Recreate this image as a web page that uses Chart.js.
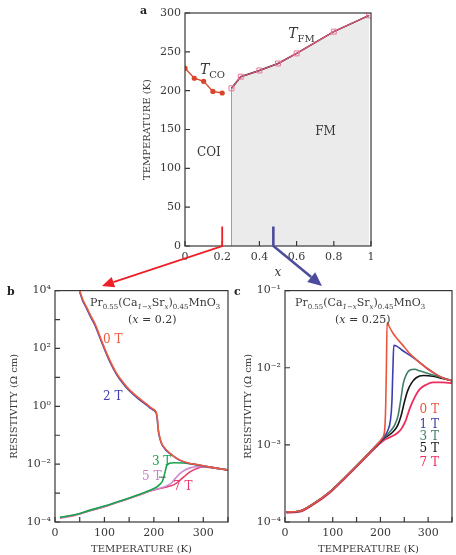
<!DOCTYPE html>
<html>
<head>
<meta charset="utf-8">
<script src="https://cdn.jsdelivr.net/npm/chart.js@4.4.0/dist/chart.umd.min.js"></script>
<style>
html, body { margin:0; padding:0; background:#fff; overflow:hidden; width:456px; height:555px; }
canvas { position:absolute; }
#chartB { left:0; top:280px; }
#chartC { left:232px; top:280px; }
#chartA { left:0; top:0; }
</style>
</head>
<body>
<canvas id="chartB" width="240" height="275"></canvas>
<canvas id="chartC" width="225" height="275"></canvas>
<canvas id="chartA" width="400" height="300"></canvas>
<script>
// ---- panel a : phase diagram ----
const xCO = [0, 0.05, 0.1, 0.15, 0.2];
const tCO = [229, 216, 212, 199, 197];
const xFM = [0.25, 0.3, 0.4, 0.5, 0.6, 0.8, 0.99];
const tFM = [203, 218, 226, 235, 248, 276, 297];
const xTicksA = [0, 0.2, 0.4, 0.6, 0.8, 1];
const yTicksA = [0, 50, 100, 150, 200, 250, 300];

// ---- panel b : x = 0.2 (log10 of resistivity) ----
const tB_hi = [50, 56, 64, 72, 81, 94, 108, 125, 140, 152, 170, 185, 192, 198, 202, 205, 207, 209, 212, 216, 221, 226, 240, 253, 270, 293, 320, 350];
const eB_0T = [4.0, 3.7, 3.43, 3.14, 2.85, 2.28, 1.70, 1.13, 0.78, 0.55, 0.28, 0.08, -0.02, -0.09, -0.14, -0.22, -0.42, -0.8, -1.07, -1.29, -1.42, -1.52, -1.72, -1.86, -1.96, -2.03, -2.12, -2.2];
const eB_2T = [3.95, 3.65, 3.38, 3.09, 2.8, 2.23, 1.65, 1.09, 0.74, 0.51, 0.24, 0.05, -0.05, -0.12, -0.17, -0.25, -0.46, -0.84, -1.1, -1.31, -1.44, -1.54, -1.73, -1.87, -1.97, -2.04, -2.12, -2.2];
const tB_3T = [10, 40, 71, 100, 138, 170, 192, 205, 212, 217, 220, 223, 226, 232, 240, 260, 280, 300, 325, 350];
const eB_3T = [-3.84, -3.75, -3.59, -3.45, -3.24, -3.05, -2.9, -2.8, -2.7, -2.6, -2.45, -2.25, -2.05, -1.97, -1.95, -1.96, -2.0, -2.06, -2.14, -2.2];
const tB_5T = [10, 40, 71, 100, 138, 170, 192, 210, 225, 235, 243, 253, 263, 275, 293, 320, 350];
const eB_5T = [-3.85, -3.76, -3.6, -3.46, -3.25, -3.06, -2.92, -2.84, -2.76, -2.66, -2.5, -2.32, -2.2, -2.12, -2.08, -2.12, -2.2];
const tB_7T = [10, 40, 71, 100, 138, 170, 192, 210, 228, 242, 252, 262, 274, 287, 300, 320, 350];
const eB_7T = [-3.86, -3.77, -3.61, -3.47, -3.26, -3.07, -2.93, -2.85, -2.78, -2.7, -2.57, -2.42, -2.26, -2.15, -2.1, -2.13, -2.2];
const yTicksB = [1e-4, 1e-3, 1e-2, 1e-1, 1, 1e1, 1e2, 1e3, 1e4];
const yLabelsB = ['10⁻⁴', '', '10⁻²', '', '10⁰', '', '10²', '', '10⁴'];

// ---- panel c : x = 0.25 ----
const tC_0T = [3, 30, 58, 92, 126, 160, 194, 204, 209, 211, 212.5, 214, 218, 226, 236, 250, 262, 280, 296, 315, 330, 350];
const eC_0T = [-3.87, -3.86, -3.77, -3.62, -3.42, -3.21, -2.99, -2.91, -2.8, -2.5, -2.0, -1.41, -1.46, -1.55, -1.63, -1.73, -1.82, -1.92, -2.0, -2.08, -2.13, -2.17];
const tC_1T = [3, 30, 58, 92, 126, 160, 194, 207, 215, 221, 224, 226, 228, 234, 245, 262, 280, 296, 315, 330, 350];
const eC_1T = [-3.87, -3.86, -3.77, -3.62, -3.42, -3.21, -2.99, -2.9, -2.82, -2.68, -2.45, -2.05, -1.71, -1.72, -1.77, -1.84, -1.92, -2.0, -2.08, -2.13, -2.17];
const tC_3T = [3, 30, 58, 92, 126, 160, 194, 207, 220, 230, 237, 243, 248, 255, 262, 272, 282, 303, 330, 350];
const eC_3T = [-3.87, -3.86, -3.77, -3.62, -3.42, -3.21, -2.99, -2.91, -2.83, -2.74, -2.62, -2.4, -2.2, -2.08, -2.03, -2.02, -2.04, -2.08, -2.13, -2.17];
const tC_5T = [3, 30, 58, 92, 126, 160, 194, 207, 225, 236, 243, 250, 257, 265, 275, 290, 310, 330, 350];
const eC_5T = [-3.87, -3.86, -3.77, -3.62, -3.42, -3.21, -3.0, -2.92, -2.84, -2.75, -2.63, -2.45, -2.3, -2.2, -2.13, -2.1, -2.11, -2.14, -2.17];
const tC_7T = [3, 30, 58, 92, 126, 160, 194, 207, 230, 243, 252, 262, 272, 282, 296, 310, 330, 350];
const eC_7T = [-3.88, -3.87, -3.78, -3.63, -3.43, -3.22, -3.01, -2.94, -2.87, -2.8, -2.7, -2.52, -2.38, -2.28, -2.22, -2.19, -2.19, -2.2];
const yTicksC = [1e-4, 1e-3, 1e-2, 1e-1];
const yLabelsC = ['10⁻⁴', '10⁻³', '10⁻²', '10⁻¹'];
const tTicks = [0, 50, 100, 150, 200, 250, 300, 350];

const FONT = '"DejaVu Serif", serif';
const INK = '#383838';

const pts = (xs, ys) => xs.map((v, i) => ({x: v, y: ys[i]}));
const logPts = (xs, es) => xs.map((v, i) => ({x: v, y: Math.pow(10, es[i])}));

function curve(data, color, w) {
  return {data, borderColor: color, borderWidth: w || 1.6, pointRadius: 0, showLine: true,
    cubicInterpolationMode: 'monotone', fill: false};
}

// write text with sub-scripts: parts = [[text, kind]] kind: '' | 'i' | 's' | 'si' | 'b'
function rich(ctx, x, y, parts, size, color) {
  ctx.save();
  ctx.fillStyle = color;
  ctx.textAlign = 'left';
  ctx.textBaseline = 'middle';
  let cx = x;
  parts.forEach(([t, k]) => {
    const sub = k.includes('s');
    const fs = sub ? Math.round(size * 0.68) : size;
    ctx.font = (k.includes('i') ? 'italic ' : '') + (k.includes('b') ? 'bold ' : '') + fs + 'px ' + FONT;
    ctx.fillText(t, cx, y + (sub ? size * 0.35 : 0));
    cx += ctx.measureText(t).width;
  });
  ctx.restore();
}

// frame + inward tick marks
const frameTicks = {
  id: 'frameTicks',
  afterDatasetsDraw(chart) {
    const {ctx, chartArea: a, scales} = chart;
    ctx.save();
    ctx.strokeStyle = INK;
    ctx.lineWidth = 1.2;
    ctx.strokeRect(a.left, a.top, a.right - a.left, a.bottom - a.top);
    ctx.lineWidth = 1.2;
    ctx.beginPath();
    scales.x.ticks.forEach(t => {
      const px = scales.x.getPixelForValue(t.value);
      ctx.moveTo(px, a.bottom); ctx.lineTo(px, a.bottom - 5);
    });
    scales.y.ticks.forEach(t => {
      const py = scales.y.getPixelForValue(t.value);
      ctx.moveTo(a.left, py); ctx.lineTo(a.left + 5, py);
    });
    ctx.stroke();
    ctx.restore();
  }
};

function axisFont(size, style) {
  return {family: FONT, size: size, style: style || 'normal'};
}

function tempAxis(afterFitH, titlePad) {
  return {
    type: 'linear', min: 0, max: 350,
    afterFit: s => { s.height = afterFitH; },
    afterBuildTicks: s => { s.ticks = tTicks.map(v => ({value: v})); },
    ticks: {padding: 5, color: INK, font: axisFont(11), autoSkip: false, maxRotation: 0,
      callback: v => (v % 100 === 0 ? String(v) : '')},
    grid: {display: false, drawTicks: false},
    border: {display: false},
    title: {display: true, text: 'TEMPERATURE (K)', color: INK, font: axisFont(10), padding: {top: titlePad, bottom: 0}}
  };
}

// ---------- panel a ----------
const arrows = {
  id: 'arrows',
  afterDraw(chart) {
    const {ctx, scales: {x, y}} = chart;
    function arrow(xv, tip, color, w, head) {
      const px = x.getPixelForValue(xv);
      const y0 = y.getPixelForValue(0);
      const y1 = y.getPixelForValue(25);
      const ang = Math.atan2(tip[1] - y0, tip[0] - px);
      const bx = tip[0] - Math.cos(ang) * head;
      const by = tip[1] - Math.sin(ang) * head;
      ctx.save();
      ctx.strokeStyle = color; ctx.fillStyle = color; ctx.lineWidth = w;
      ctx.beginPath();
      ctx.moveTo(px, y1); ctx.lineTo(px, y0); ctx.lineTo(bx, by);
      ctx.stroke();
      ctx.beginPath();
      ctx.moveTo(tip[0], tip[1]);
      ctx.lineTo(bx + Math.sin(ang) * head * 0.45, by - Math.cos(ang) * head * 0.45);
      ctx.lineTo(bx - Math.sin(ang) * head * 0.45, by + Math.cos(ang) * head * 0.45);
      ctx.closePath();
      ctx.fill();
      ctx.restore();
    }
    arrow(0.2, [102, 286], '#ee1f27', 1.8, 12);
    arrow(0.475, [322, 286], '#4d4c9c', 2.6, 14);

    const px = v => x.getPixelForValue(v), py = v => y.getPixelForValue(v);
    rich(ctx, 140, 11, [['a', 'b']], 11, '#222');
    rich(ctx, px(0.08), py(226), [['T', 'i'], ['CO', 's']], 14, INK);
    rich(ctx, px(0.555), py(272), [['T', 'i'], ['FM', 's']], 14, INK);
    rich(ctx, px(0.065), py(120), [['COI', '']], 12, INK);
    rich(ctx, px(0.70), py(147), [['FM', '']], 12, INK);
  }
};

new Chart(document.getElementById('chartA'), {
  type: 'scatter',
  data: {
    datasets: [
      Object.assign(curve(pts(xFM, tFM), '#e2557a', 1.2), {
        cubicInterpolationMode: 'default', pointRadius: 3.5, pointStyle: 'rect',
        pointBackgroundColor: 'rgba(0,0,0,0)', pointBorderColor: '#e8759a', pointBorderWidth: 1, order: 0}),
      Object.assign(curve(pts(xCO, tCO), '#d9452b', 1.4), {
        cubicInterpolationMode: 'default', pointRadius: 2.6, pointBackgroundColor: '#d9452b',
        pointBorderWidth: 0, order: 0}),
      Object.assign(curve(pts(xFM, tFM), '#1a1a1a', 1.5), {cubicInterpolationMode: 'default', order: 1}),
      Object.assign(curve([{x: xFM[0], y: 0}].concat(pts(xFM, tFM)), '#888', 0.8), {
        cubicInterpolationMode: 'default', fill: 'origin', backgroundColor: '#ebebeb', order: 2})
    ]
  },
  options: {
    responsive: false, animation: false,
    layout: {padding: {left: 130, right: 29, top: 13, bottom: 20}},
    plugins: {legend: {display: false}, tooltip: {enabled: false}},
    scales: {
      x: {
        type: 'linear', min: 0, max: 1,
        afterFit: s => { s.height = 34; },
        afterBuildTicks: s => { s.ticks = xTicksA.map(v => ({value: v})); },
        ticks: {padding: 5, color: INK, font: axisFont(11), maxRotation: 0, autoSkip: false,
          callback: v => String(+v.toFixed(1))},
        grid: {display: false, drawTicks: false},
        border: {display: false},
        title: {display: true, text: 'x', color: INK, font: axisFont(12, 'italic'), padding: {top: 6, bottom: 0}}
      },
      y: {
        min: 0, max: 300,
        afterFit: s => { s.width = 55; },
        afterBuildTicks: s => { s.ticks = yTicksA.map(v => ({value: v})); },
        ticks: {padding: 4, color: INK, font: axisFont(11)},
        grid: {display: false, drawTicks: false},
        border: {display: false},
        title: {display: true, text: 'TEMPERATURE (K)', color: INK, font: axisFont(10), padding: {top: 11, bottom: 0}}
      }
    }
  },
  plugins: [frameTicks, arrows]
});

// ---------- panel b ----------
const labelsB = {
  id: 'labelsB',
  afterDraw(chart) {
    const {ctx, chartArea: a, scales: {x, y}} = chart;
    const px = v => x.getPixelForValue(v), py = e => y.getPixelForValue(Math.pow(10, e));
    rich(ctx, 7, 12, [['b', 'b']], 11, '#222');
    rich(ctx, a.left + 35, a.top + 13, [['Pr', ''], ['0.55', 's'], ['(Ca', ''], ['1−x', 'si'], ['Sr', ''], ['x', 'si'], [')', ''], ['0.45', 's'], ['MnO', ''], ['3', 's']], 11, INK);
    rich(ctx, a.left + 73, a.top + 30, [['(', ''], ['x', 'i'], [' = 0.2)', '']], 11, INK);
    rich(ctx, px(97), py(2.28), [['0 T', '']], 12, '#ef5b3f');
    rich(ctx, px(97), py(0.31), [['2 T', '']], 12, '#3f3fae');
    rich(ctx, px(196), py(-1.93), [['3 T', '']], 12, '#17a34a');
    rich(ctx, px(176), py(-2.45), [['5 T', '']], 12, '#c583c8');
    rich(ctx, px(239), py(-2.79), [['7 T', '']], 12, '#eb3a6c');
    ctx.save();
    ctx.strokeStyle = '#555'; ctx.lineWidth = 1;
    ctx.beginPath(); ctx.moveTo(px(210), py(-2.45)); ctx.lineTo(px(224), py(-2.45)); ctx.stroke();
    ctx.restore();
  }
};

new Chart(document.getElementById('chartB'), {
  type: 'scatter',
  data: {
    datasets: [
      curve(logPts(tB_hi, eB_0T), '#ef5b3f'),
      curve(logPts(tB_hi, eB_2T), '#3f3fae'),
      curve(logPts(tB_3T, eB_3T), '#17a34a'),
      curve(logPts(tB_5T, eB_5T), '#cc8ad0'),
      curve(logPts(tB_7T, eB_7T), '#eb3a6c')
    ]
  },
  options: {
    responsive: false, animation: false,
    layout: {padding: {left: 0, right: 12, top: 10, bottom: 0}},
    plugins: {legend: {display: false}, tooltip: {enabled: false}},
    scales: {
      x: tempAxis(33, 2),
      y: {
        type: 'logarithmic', min: 1e-4, max: 1e4,
        afterFit: s => { s.width = 55; },
        afterBuildTicks: s => { s.ticks = yTicksB.map(v => ({value: v})); },
        ticks: {padding: 4, color: INK, font: axisFont(11), autoSkip: false,
          callback: (v, i) => yLabelsB[i]},
        grid: {display: false, drawTicks: false},
        border: {display: false},
        title: {display: true, text: 'RESISTIVITY (Ω cm)', color: INK, font: axisFont(10), padding: {top: 8, bottom: 0}}
      }
    }
  },
  plugins: [frameTicks, labelsB]
});

// ---------- panel c ----------
const labelsC = {
  id: 'labelsC',
  afterDraw(chart) {
    const {ctx, chartArea: a, scales: {x, y}} = chart;
    const px = v => x.getPixelForValue(v), py = e => y.getPixelForValue(Math.pow(10, e));
    rich(ctx, 2, 12, [['c', 'b']], 11, '#222');
    rich(ctx, a.left + 10, a.top + 13, [['Pr', ''], ['0.55', 's'], ['(Ca', ''], ['1−x', 'si'], ['Sr', ''], ['x', 'si'], [')', ''], ['0.45', 's'], ['MnO', ''], ['3', 's']], 11, INK);
    rich(ctx, a.left + 50, a.top + 30, [['(', ''], ['x', 'i'], [' = 0.25)', '']], 11, INK);
    rich(ctx, px(282), py(-2.55), [['0 T', '']], 12, '#e9553b');
    rich(ctx, px(282), py(-2.74), [['1 T', '']], 12, '#3c3fae');
    rich(ctx, px(282), py(-2.90), [['3 T', '']], 12, '#3f7d66');
    rich(ctx, px(282), py(-3.05), [['5 T', '']], 12, '#151515');
    rich(ctx, px(282), py(-3.23), [['7 T', '']], 12, '#ee2d5f');
  }
};

new Chart(document.getElementById('chartC'), {
  type: 'scatter',
  data: {
    datasets: [
      curve(logPts(tC_0T, eC_0T), '#e9553b'),
      curve(logPts(tC_1T, eC_1T), '#3c3fae'),
      curve(logPts(tC_3T, eC_3T), '#3f7d66'),
      curve(logPts(tC_5T, eC_5T), '#151515'),
      curve(logPts(tC_7T, eC_7T), '#ee2d5f', 1.8)
    ]
  },
  options: {
    responsive: false, animation: false,
    layout: {padding: {left: 0, right: 0, top: 10, bottom: 0}},
    plugins: {legend: {display: false}, tooltip: {enabled: false}},
    scales: {
      x: tempAxis(33, 2),
      y: {
        type: 'logarithmic', min: 1e-4, max: 1e-1,
        afterFit: s => { s.width = 53; },
        afterBuildTicks: s => { s.ticks = yTicksC.map(v => ({value: v})); },
        ticks: {padding: 4, color: INK, font: axisFont(11), autoSkip: false,
          callback: (v, i) => yLabelsC[i]},
        grid: {display: false, drawTicks: false},
        border: {display: false},
        title: {display: true, text: 'RESISTIVITY (Ω cm)', color: INK, font: axisFont(10), padding: {top: 10, bottom: 0}}
      }
    }
  },
  plugins: [frameTicks, labelsC]
});
</script>
</body>
</html>
